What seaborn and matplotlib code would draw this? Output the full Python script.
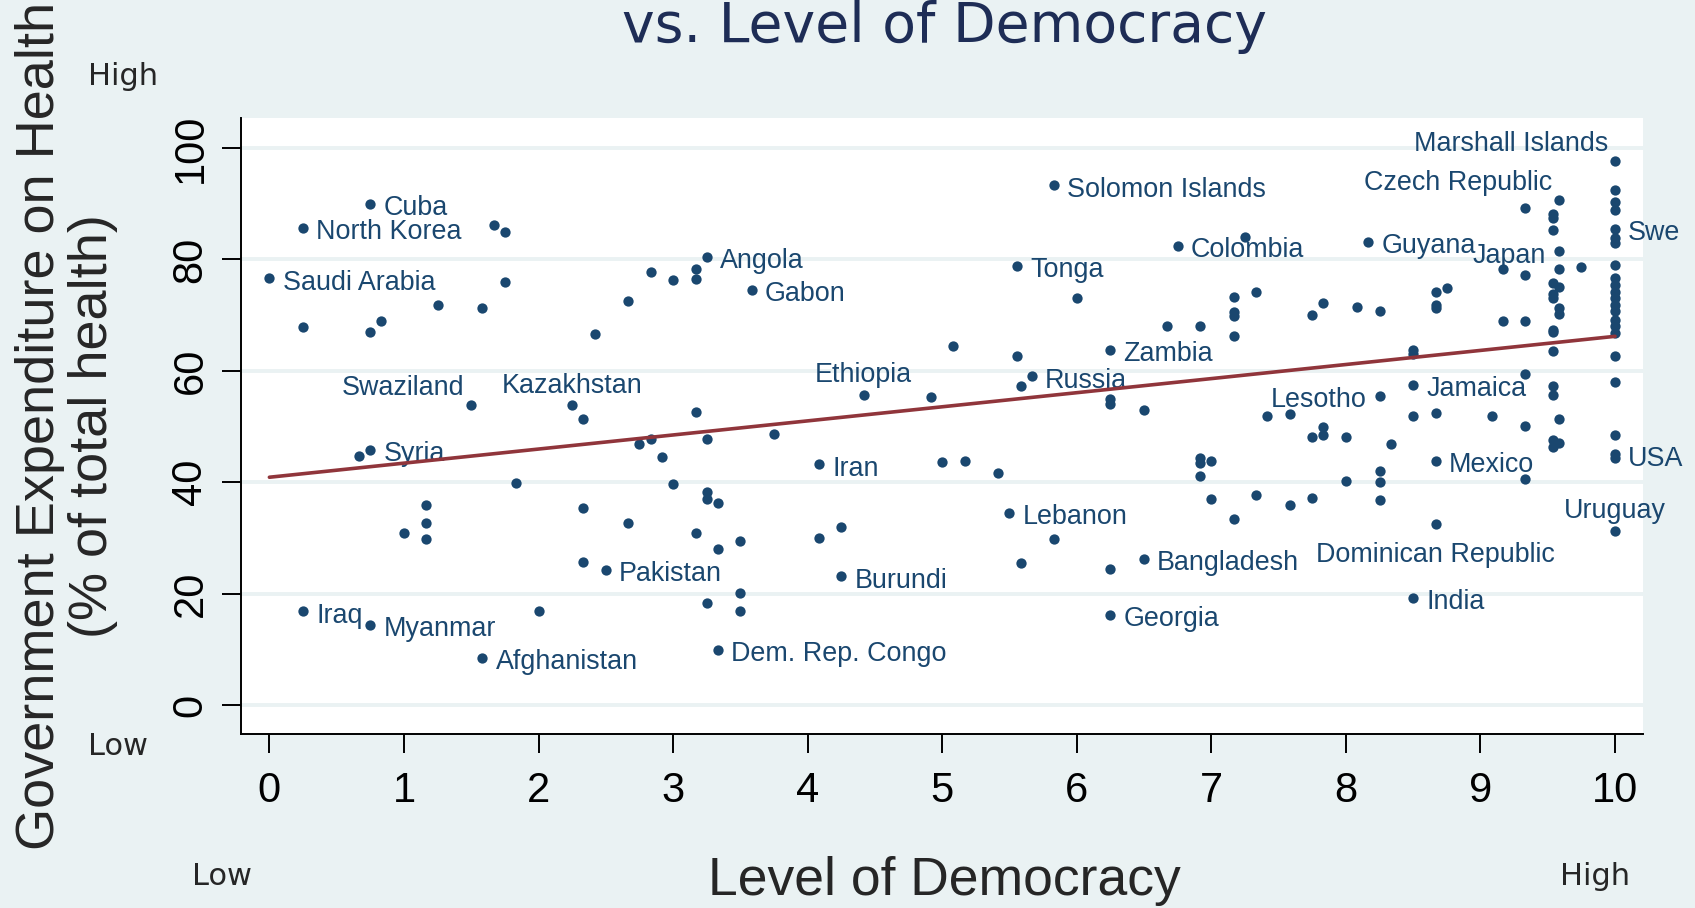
import pandas as pd
import seaborn as sns
import matplotlib.pyplot as plt

# --- data ---
# labelled countries
names = ['Cuba', 'North Korea', 'Saudi Arabia', 'Angola', 'Gabon', 'Swaziland',
         'Kazakhstan', 'Syria', 'Pakistan', 'Iraq', 'Myanmar', 'Afghanistan',
         'Solomon Islands', 'Tonga', 'Zambia', 'Russia', 'Ethiopia', 'Iran',
         'Burundi', 'Dem. Rep. Congo', 'Lebanon', 'Bangladesh', 'Georgia',
         'Colombia', 'Guyana', 'Czech Republic', 'Japan', 'Jamaica', 'Lesotho',
         'Mexico', 'Dominican Republic', 'India', 'Marshall Islands', 'Swe',
         'USA', 'Uruguay']
names_democracy = [0.75, 0.25, 0.0, 3.25, 3.583, 1.5,
                   2.25, 0.75, 2.5, 0.25, 0.75, 1.583,
                   5.833, 5.556, 6.25, 5.667, 4.417, 4.083,
                   4.25, 3.333, 5.5, 6.5, 6.25,
                   6.75, 8.167, 9.583, 9.583, 8.5, 8.25,
                   8.667, 8.667, 8.5, 10, 10,
                   10, 10]
names_health = [90.0, 85.6, 76.6, 80.5, 74.5, 53.8,
                53.8, 45.8, 24.3, 16.8, 14.4, 8.4,
                93.3, 78.9, 63.8, 59.0, 55.7, 43.2,
                23.1, 9.9, 34.5, 26.3, 16.2,
                82.4, 83.1, 90.6, 78.2, 57.5, 55.5,
                43.8, 32.5, 19.2, 97.6, 85.5,
                45.0, 31.3]

# unlabelled countries
other_democracy = [1.667, 1.75, 1.75, 1.25, 1.583, 0.25, 0.75, 0.833, 2.417, 2.667,
                   2.833, 3.0, 3.167, 3.167, 2.333, 3.167, 0.667, 2.75, 2.833, 2.917,
                   3.25, 1.833, 3.0, 1.167, 1.167, 1.167, 1.0, 2.333, 2.667, 3.167,
                   3.25, 3.25, 2.333, 3.25, 2.0, 6.0, 6.667, 5.083, 5.556, 5.583,
                   4.917, 6.25, 6.25, 6.5, 3.75, 5.0, 5.167, 5.417, 3.333, 3.333,
                   3.5, 4.083, 4.25, 3.5, 3.5, 5.833, 5.583, 6.25, 7.25, 7.167,
                   7.333, 6.917, 7.167, 7.167, 7.167, 7.75, 7.833, 8.083, 8.25, 8.667,
                   8.75, 8.667, 8.667, 9.333, 9.542, 9.542, 9.542, 9.583, 9.167, 9.333,
                   9.75, 9.542, 9.583, 9.542, 9.542, 9.583, 9.583, 9.167, 9.333, 9.542,
                   9.542, 9.542, 8.5, 8.5, 9.333, 9.542, 9.542, 7.417, 7.583, 7.833,
                   7.833, 8.5, 8.667, 9.083, 9.583, 9.333, 7.75, 8.0, 8.333, 9.542,
                   9.583, 9.542, 9.333, 6.917, 6.917, 7.0, 6.917, 7.0, 7.167, 7.333,
                   7.583, 7.75, 8.0, 8.25, 8.25, 8.25,
                   10, 10, 10, 10, 10, 10, 10, 10, 10, 10,
                   10, 10, 10, 10, 10, 10, 10, 10, 10]
other_health = [86.2, 85.0, 75.9, 71.8, 71.2, 67.8, 67.0, 69.0, 66.6, 72.6,
                77.7, 76.3, 78.3, 76.5, 51.3, 52.7, 44.7, 46.9, 47.8, 44.5,
                47.7, 39.8, 39.7, 35.9, 32.6, 29.9, 30.9, 35.3, 32.7, 30.9,
                38.3, 37.0, 25.7, 18.3, 16.9, 73.1, 68.0, 64.4, 62.7, 57.2,
                55.3, 54.9, 54.0, 53.0, 48.7, 43.7, 43.9, 41.6, 36.2, 28.0,
                29.4, 30.0, 32.0, 20.1, 16.9, 29.8, 25.5, 24.4, 84.1, 73.3,
                74.2, 68.0, 70.5, 69.9, 66.2, 70.0, 72.2, 71.4, 70.8, 74.2,
                74.8, 71.8, 71.2, 89.2, 88.1, 87.4, 85.3, 81.5, 78.3, 77.2,
                78.6, 75.7, 75.0, 73.8, 73.0, 71.3, 70.2, 69.0, 69.0, 67.4,
                66.9, 63.6, 63.8, 63.1, 59.5, 57.3, 55.7, 51.9, 52.3, 50.0,
                48.5, 51.9, 52.5, 51.9, 51.4, 50.1, 48.1, 48.1, 46.9, 47.6,
                47.1, 46.4, 40.5, 44.4, 43.5, 43.8, 41.1, 37.0, 33.4, 37.8,
                36.0, 37.2, 40.2, 42.0, 40.0, 36.8,
                92.4, 90.4, 88.9, 83.8, 82.9, 79.0, 76.6, 75.4, 74.2, 73.1,
                71.9, 70.7, 69.2, 68.0, 66.8, 62.6, 58.0, 48.5, 44.4]

# linear fit as drawn in the original (end points)
fit_democracy = [0, 10]
fit_health = [40.9, 66.2]

x_ticks = [0, 1, 2, 3, 4, 5, 6, 7, 8, 9, 10]
y_ticks = [0, 20, 40, 60, 80, 100]

# label placement (clock position, like stata mlabvpos); default is 3
label_clock = {'Swaziland': 11, 'Kazakhstan': 12, 'Ethiopia': 12, 'Lesotho': 9,
               'Marshall Islands': 11, 'Czech Republic': 11, 'Japan': 10,
               'Uruguay': 12, 'Dominican Republic': 6}
clock_offsets = {3: (9.5, -3, 'left', 'center'),
                 9: (-9.5, -3, 'right', 'center'),
                 10: (-9.5, 5, 'right', 'baseline'),
                 11: (-5, 7.5, 'right', 'baseline'),
                 12: (0, 9, 'center', 'baseline'),
                 6: (0, -13, 'center', 'top')}

df = pd.concat([
    pd.DataFrame({'democracy': names_democracy, 'health': names_health, 'country': names}),
    pd.DataFrame({'democracy': other_democracy, 'health': other_health, 'country': ''}),
], ignore_index=True)

navy = '#1A476F'
maroon = '#90353B'
bg = '#EAF2F3'

sns.set_style('white')
plt.rcParams['font.family'] = ['Liberation Sans', 'DejaVu Sans']

fig = plt.figure(figsize=(16.95, 9.08), dpi=100, facecolor=bg)
ax = fig.add_axes([241 / 1695, 1 - 734 / 908, (1643 - 241) / 1695, (734 - 118) / 908])
ax.set_facecolor('white')

sns.scatterplot(data=df, x='democracy', y='health', color=navy, s=55,
                linewidth=0, ax=ax, zorder=3)
sns.lineplot(x=fit_democracy, y=fit_health, color=maroon, lw=2.6, zorder=5, ax=ax)

# country labels
for _, row in df[df['country'] != ''].iterrows():
    dx, dy, ha, va = clock_offsets[label_clock.get(row['country'], 3)]
    ax.annotate(row['country'], (row['democracy'], row['health']),
                xytext=(dx, dy), textcoords='offset points',
                ha=ha, va=va, fontsize=19.4, color=navy, zorder=4)

ax.set_xlim(-0.211, 10.208)
ax.set_ylim(-5.2, 105.4)
ax.set_xticks(x_ticks)
ax.set_yticks(y_ticks)
ax.set_xlabel('')
ax.set_ylabel('')

for s in ['top', 'right']:
    ax.spines[s].set_visible(False)
for s in ['left', 'bottom']:
    ax.spines[s].set_color('black')
    ax.spines[s].set_linewidth(1.4)

ax.yaxis.grid(True, color=bg, lw=2.8)
ax.xaxis.grid(False)
ax.set_axisbelow(True)

ax.tick_params(axis='x', bottom=True, length=13.5, width=1.4, pad=13,
               labelsize=30, color='black', labelcolor='black')
ax.tick_params(axis='y', left=True, length=13.5, width=1.4, pad=8.5,
               labelsize=30, color='black', labelcolor='black', labelrotation=90)
for t in ax.get_yticklabels():
    t.set_va('center')

# axis titles and text
fig.text(54 / 1695, 1 - 426 / 908, 'Government Expenditure on Health', rotation=90,
         rotation_mode='anchor', ha='center', va='baseline', fontsize=39)
fig.text(107 / 1695, 1 - 426 / 908, '(% of total health)', rotation=90,
         rotation_mode='anchor', ha='center', va='baseline', fontsize=39)
fig.text(944 / 1695, 1 - 895 / 908, 'Level of Democracy', ha='center',
         va='baseline', fontsize=38.5)
fig.text(945 / 1695, 1 - 42.3 / 908, 'vs. Level of Democracy', ha='center',
         va='baseline', fontsize=39.8, family='DejaVu Sans', color='#1E2D56')

fig.text(88 / 1695, 1 - 85 / 908, 'High', fontsize=22, family='DejaVu Sans', va='baseline')
fig.text(88 / 1695, 1 - 755 / 908, 'Low', fontsize=22, family='DejaVu Sans', va='baseline')
fig.text(192 / 1695, 1 - 885 / 908, 'Low', fontsize=22, family='DejaVu Sans', va='baseline')
fig.text(1560 / 1695, 1 - 885 / 908, 'High', fontsize=22, family='DejaVu Sans', va='baseline')

fig.savefig('out.png', dpi=100, facecolor=bg)
